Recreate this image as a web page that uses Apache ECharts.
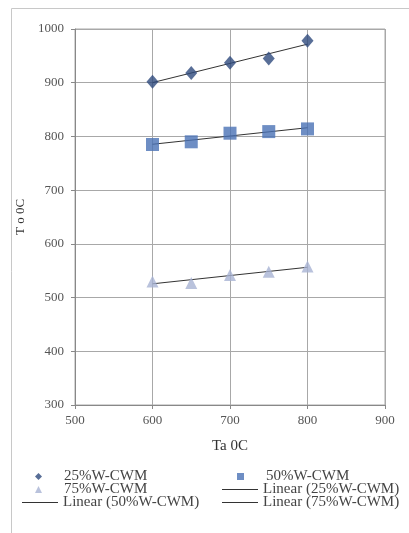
<!DOCTYPE html>
<html>
<head>
<meta charset="utf-8">
<script src="https://cdn.jsdelivr.net/npm/echarts@6/dist/echarts.min.js"></script>
<style>
  html, body { margin: 0; padding: 0; background: #fff; }
  #chart { width: 409px; height: 533px; }
</style>
</head>
<body>
<div id="chart"></div>
<script>
// Ambient temperature Ta (0C) on the x axis
const ta = [600, 650, 700, 750, 800];
// Measured temperature T (0C) for each water-in-CWM ratio
const cwm25 = [902, 918, 937, 945, 978];
const cwm50 = [785, 790, 806, 809, 814];
const cwm75 = [530, 527, 542, 548, 558];
const xTicks = [500, 600, 700, 800, 900];
const yTicks = [300, 400, 500, 600, 700, 800, 900, 1000];

// Least-squares straight line through one series, evaluated at the first and last x
function linearFit(xs, ys) {
  const n = xs.length;
  const mx = xs.reduce((a, b) => a + b, 0) / n;
  const my = ys.reduce((a, b) => a + b, 0) / n;
  let sxy = 0, sxx = 0;
  for (let i = 0; i < n; i++) {
    sxy += (xs[i] - mx) * (ys[i] - my);
    sxx += (xs[i] - mx) * (xs[i] - mx);
  }
  const b = sxy / sxx, a = my - b * mx;
  const x0 = xs[0], x1 = xs[n - 1];
  return [[x0, a + b * x0], [x1, a + b * x1]];
}
const pairs = ys => ta.map((x, i) => [x, ys[i]]);

const font = 'Liberation Serif, Times New Roman, serif';
const textColor = '#555';
const chart = echarts.init(document.getElementById('chart'));

const markerSeries = (name, data, symbol, size, color) => ({
  name, type: 'scatter', data: pairs(data), symbol, symbolSize: size,
  itemStyle: { color }, z: 3
});
const trendSeries = (name, data) => ({
  name, type: 'line', data: linearFit(ta, data), showSymbol: false,
  lineStyle: { color: '#333', width: 1 }, itemStyle: { color: '#333' }, z: 2
});

const legendText = { fontFamily: font, fontSize: 15, color: '#444' };
const markerLegend = (name, left, top, icon) => ({
  data: [{ name, icon }], left, top, itemWidth: 7, itemHeight: 7, itemGap: 0,
  textStyle: Object.assign({ padding: [0, 0, 0, 17] }, legendText), selectedMode: false, padding: 0
});
const lineLegend = (name, left, top) => ({
  data: [{ name, icon: 'rect' }], left, top, itemWidth: 36, itemHeight: 1, itemGap: 0,
  textStyle: Object.assign({ padding: [0, 0, 0, 0] }, legendText), selectedMode: false, padding: 0
});

chart.setOption({
  animation: false,
  backgroundColor: '#fff',
  graphic: [{
    type: 'rect', shape: { x: 11.5, y: 8.5, width: 420, height: 540 },
    style: { fill: 'none', stroke: '#c8c8c8', lineWidth: 1 }, silent: true
  }],
  grid: { left: 75, right: 24, top: 29, bottom: 128, show: true, borderColor: '#a8a8a8', borderWidth: 1 },
  xAxis: {
    type: 'value', min: 500, max: 900, interval: 100,
    name: 'Ta 0C', nameLocation: 'middle', nameGap: 34,
    nameTextStyle: { fontFamily: font, fontSize: 15, color: '#333' },
    axisLine: { show: true, lineStyle: { color: '#888' } },
    axisTick: { show: true, length: 4, lineStyle: { color: '#888' } },
    axisLabel: { fontFamily: font, fontSize: 13, color: textColor, margin: 9,
      formatter: v => xTicks.includes(v) ? String(v) : '' },
    splitLine: { show: true, lineStyle: { color: '#a8a8a8' } }
  },
  yAxis: {
    type: 'value', min: 300, max: 1000, interval: 100,
    name: 'T o 0C', nameLocation: 'middle', nameGap: 46, nameRotate: 90,
    nameTextStyle: { fontFamily: font, fontSize: 13, color: '#333' },
    axisLine: { show: true, lineStyle: { color: '#888' } },
    axisTick: { show: true, length: 4, lineStyle: { color: '#888' } },
    axisLabel: { fontFamily: font, fontSize: 13, color: textColor, margin: 11,
      formatter: v => yTicks.includes(v) ? String(v) : '' },
    splitLine: { show: true, lineStyle: { color: '#a8a8a8' } }
  },
  legend: [
    markerLegend('25%W-CWM', 35, 469, 'diamond'),
    markerLegend('50%W-CWM', 237, 469, 'rect'),
    markerLegend('75%W-CWM', 35, 482, 'triangle'),
    lineLegend('Linear (25%W-CWM)', 222, 482),
    lineLegend('Linear (50%W-CWM)', 22, 495),
    lineLegend('Linear (75%W-CWM)', 222, 495)
  ],
  series: [
    markerSeries('25%W-CWM', cwm25, 'diamond', [12, 14], '#2e4a7d'),
    markerSeries('50%W-CWM', cwm50, 'rect', 13, '#4a72b5'),
    markerSeries('75%W-CWM', cwm75, 'triangle', 12, '#a8b3d3'),
    trendSeries('Linear (25%W-CWM)', cwm25),
    trendSeries('Linear (50%W-CWM)', cwm50),
    trendSeries('Linear (75%W-CWM)', cwm75)
  ]
});
</script>
</body>
</html>
